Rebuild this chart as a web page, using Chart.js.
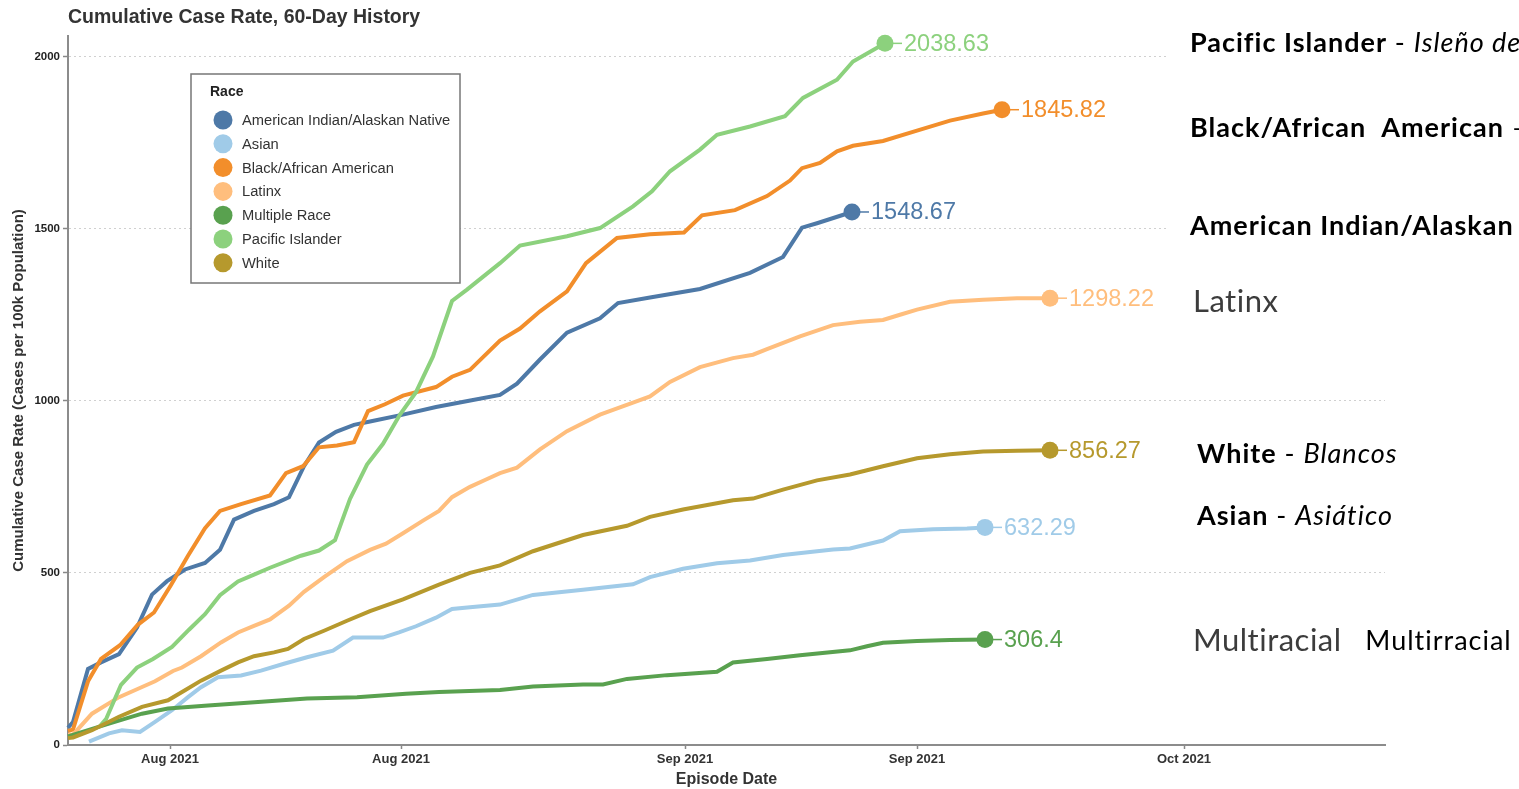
<!DOCTYPE html>
<html>
<head>
<meta charset="utf-8">
<script src="https://cdn.jsdelivr.net/npm/chart.js@4.4.0/dist/chart.umd.min.js"></script>
<style>
  html, body { margin: 0; padding: 0; background: #fff; }
  #wrap { position: relative; width: 1519px; height: 789px; }
</style>
</head>
<body>
<div id="wrap"><canvas id="caseRate" width="1519" height="789"></canvas></div>
<script>
// x = day index along the episode date axis, y = cumulative cases per 100k
const aian = [[0,50],[0.5,67],[2.0,221],[3.3,240],[5.1,264],[6.9,341],[8.4,437],[9.9,476],[11.7,510],[13.7,529],[15.2,567],[16.6,655],[18.6,680],[20.6,700],[22.1,720],[23.6,810],[25.1,879],[26.8,910],[28.6,930],[30.2,940],[33.5,960],[36.8,982],[40.1,1000],[43.2,1017],[44.9,1050],[47.2,1120],[49.9,1198],[53.2,1240],[55.0,1284],[58.2,1300],[63.2,1325],[68.2,1372],[71.5,1418],[73.4,1503],[74.9,1516],[78.4,1548.67]];
const asian = [[2.1,10],[4.1,34],[5.4,43],[7.2,38],[8.7,67],[10.4,101],[12.0,139],[13.3,168],[15.0,197],[17.3,202],[19.3,216],[21.6,236],[23.9,255],[26.5,274],[28.5,312],[31.5,312],[33.1,327],[34.8,345],[36.8,370],[38.4,395],[40.2,400],[43.2,408],[46.5,436],[51.5,451],[56.5,467],[58.2,488],[61.5,512],[64.9,528],[68.2,536],[71.5,552],[76.5,568],[78.2,571],[81.5,594],[83.2,621],[86.5,627],[89.9,629],[91.7,632.29]];
const black = [[0,40],[0.5,45],[2.0,185],[3.3,250],[5.2,290],[7.0,350],[8.6,385],[10.3,465],[12.0,550],[13.7,630],[15.2,680],[17.3,700],[20.2,725],[21.8,790],[23.5,810],[25.1,865],[26.9,870],[28.6,880],[30.0,970],[31.7,990],[33.5,1015],[36.8,1040],[38.4,1070],[40.2,1090],[43.2,1175],[45.2,1210],[47.2,1260],[49.9,1318],[51.8,1400],[54.9,1473],[58.2,1484],[61.6,1489],[63.4,1539],[66.7,1554],[69.9,1595],[72.2,1640],[73.4,1676],[75.2,1691],[76.9,1725],[78.5,1741],[81.5,1755],[84.9,1785],[88.2,1814],[91.5,1835],[93.4,1845.82]];
const latinx = [[0,30],[0.5,30],[2.4,91],[5.1,139],[6.9,162],[8.7,185],[10.5,215],[11.4,225],[13.3,258],[15.3,298],[17.0,327],[18.6,346],[20.2,365],[22.1,405],[23.6,445],[25.6,488],[27.9,534],[30.2,567],[31.8,585],[33.5,615],[35.5,652],[37.1,680],[38.4,720],[40.2,750],[41.7,770],[43.2,790],[44.9,806],[47.2,859],[49.9,912],[53.2,960],[56.5,995],[58.2,1013],[60.2,1055],[63.2,1098],[66.5,1124],[68.5,1134],[69.9,1150],[73.2,1187],[76.5,1220],[79.2,1230],[81.5,1235],[83.2,1250],[84.9,1265],[88.2,1288],[91.5,1294],[94.9,1298],[98.2,1298.22]];
const multiple = [[0,25],[4.1,62],[7.4,91],[10.0,106],[14.0,115],[19.0,125],[23.9,135],[28.9,139],[33.8,149],[37.1,154],[43.2,160],[46.5,170],[51.5,176],[53.5,176],[55.9,192],[59.9,203],[64.9,213],[66.5,240],[69.9,250],[73.2,261],[78.2,275],[79.9,287],[81.5,297],[84.9,302],[88.2,305],[91.7,306.4]];
const pacific = [[3.2,55],[3.8,75],[5.3,175],[6.9,225],[8.5,250],[10.4,285],[12.1,335],[13.7,380],[15.2,435],[17.0,475],[18.6,495],[20.2,515],[23.3,550],[25.1,565],[26.7,595],[28.2,715],[29.9,815],[31.5,875],[33.2,960],[34.8,1025],[36.5,1129],[38.4,1290],[39.9,1323],[43.2,1400],[45.2,1451],[49.9,1478],[53.2,1502],[56.5,1565],[58.4,1609],[60.2,1667],[63.2,1730],[64.9,1773],[68.2,1797],[71.7,1827],[73.5,1880],[76.9,1933],[78.5,1986],[81.7,2038.63]];
const white = [[0,20],[0.5,22],[2.4,43],[5.1,82],[7.4,111],[10.0,130],[11.7,159],[13.3,187],[15.3,216],[17.0,240],[18.6,258],[20.6,269],[22.0,279],[23.6,308],[25.6,332],[27.9,361],[30.2,389],[33.5,423],[37.1,466],[40.2,500],[43.2,522],[46.5,563],[51.5,610],[55.9,637],[58.2,663],[61.5,684],[66.5,711],[68.5,716],[71.5,742],[74.9,769],[78.2,786],[81.5,810],[84.9,833],[88.2,845],[91.5,853],[94.9,855],[98.2,856.27]];

const seriesNames = ['American Indian/Alaskan Native', 'Asian', 'Black/African American', 'Latinx', 'Multiple Race', 'Pacific Islander', 'White'];
const seriesData = [aian, asian, black, latinx, multiple, pacific, white];
const seriesColors = ['#4e79a7', '#a0cbe8', '#f28e2b', '#ffbe7d', '#59a14f', '#8cd17d', '#b6992d'];

const tickDays = [10.2, 33.3, 61.7, 84.9, 111.6];
const tickLabels = ['Aug 2021', 'Aug 2021', 'Sep 2021', 'Sep 2021', 'Oct 2021'];
const yTicks = [0, 500, 1000, 1500, 2000];

// right-hand notes, each line is a list of [text, style]
const sideNotes = [
  [['Pacific Islander', 'b'], [' - ', 'r'], ['Isleño del Pacífico', 'i']],
  [['Black/African  American', 'b'], [' –', 'r']],
  [['American Indian/Alaskan Native', 'b']],
  [['Latinx', 'g']],
  [['White', 'b'], [' - ', 'r'], ['Blancos', 'i']],
  [['Asian', 'b'], [' - ', 'r'], ['Asiático', 'i']],
  [['Multiracial', 'g'], ['   Multirracial', 'r']]
];
const noteY = [43, 128, 226, 302, 454, 516, 641];
const noteX = [1190, 1190, 1190, 1193, 1197, 1197, 1193];

const chartTitle = {
  id: 'chartTitle',
  afterDraw(chart) {
    const ctx = chart.ctx;
    ctx.save();
    ctx.font = 'bold 19.5px "Liberation Sans", Arial, sans-serif';
    ctx.fillStyle = '#333';
    ctx.textBaseline = 'middle';
    ctx.fillText('Cumulative Case Rate, 60-Day History', 68, 18);
    ctx.restore();
  }
};

const endLabels = {
  id: 'endLabels',
  afterDatasetsDraw(chart) {
    const ctx = chart.ctx;
    ctx.save();
    ctx.font = '23.5px "Liberation Sans", Arial, sans-serif';
    ctx.textBaseline = 'middle';
    chart.data.datasets.forEach((ds, i) => {
      const meta = chart.getDatasetMeta(i);
      const pt = meta.data[meta.data.length - 1];
      const last = ds.data[ds.data.length - 1];
      ctx.strokeStyle = ds.borderColor;
      ctx.lineWidth = 1.5;
      ctx.beginPath();
      ctx.moveTo(pt.x + 8, pt.y);
      ctx.lineTo(pt.x + 17, pt.y);
      ctx.stroke();
      ctx.fillStyle = ds.borderColor;
      ctx.fillText(String(last.y), pt.x + 19, pt.y + 1);
    });
    ctx.restore();
  }
};

const raceLegend = {
  id: 'raceLegend',
  afterDraw(chart) {
    const ctx = chart.ctx;
    ctx.save();
    ctx.fillStyle = '#fff';
    ctx.fillRect(191, 74, 269, 209);
    ctx.strokeStyle = '#777';
    ctx.lineWidth = 1.5;
    ctx.strokeRect(191, 74, 269, 209);
    ctx.textBaseline = 'middle';
    ctx.fillStyle = '#222';
    ctx.font = 'bold 14px "Liberation Sans", Arial, sans-serif';
    ctx.fillText('Race', 210, 92);
    ctx.font = '14.7px "Liberation Sans", Arial, sans-serif';
    chart.data.datasets.forEach((ds, i) => {
      const y = 120 + i * 23.8;
      ctx.fillStyle = ds.borderColor;
      ctx.beginPath();
      ctx.arc(223, y, 9.5, 0, Math.PI * 2);
      ctx.fill();
      ctx.fillStyle = '#333';
      ctx.fillText(ds.label, 242, y + 1);
    });
    ctx.restore();
  }
};

const sideText = {
  id: 'sideText',
  afterDraw(chart) {
    const ctx = chart.ctx;
    ctx.save();
    ctx.fillStyle = '#fff';
    ctx.fillRect(1168, 28, 351, 240);
    ctx.textBaseline = 'middle';
    const fonts = {
      b: ['bold 27px Lato, "Open Sans", sans-serif', '#000', '1px'],
      r: ['27px Lato, "Open Sans", sans-serif', '#000', '1px'],
      i: ['italic 27px Lato, "Open Sans", sans-serif', '#000', '1px'],
      g: ['31px Lato, "Open Sans", sans-serif', '#3c3c3c', '0.5px']
    };
    sideNotes.forEach((line, k) => {
      let x = noteX[k];
      line.forEach(([txt, st]) => {
        ctx.font = fonts[st][0];
        ctx.fillStyle = fonts[st][1];
        if ('letterSpacing' in ctx) ctx.letterSpacing = fonts[st][2];
        ctx.fillText(txt, x, noteY[k]);
        x += ctx.measureText(txt).width;
      });
    });
    ctx.restore();
  }
};

const datasets = seriesNames.map((name, i) => ({
  label: name,
  data: seriesData[i].map(p => ({ x: p[0], y: p[1] })),
  borderColor: seriesColors[i],
  backgroundColor: seriesColors[i],
  pointBackgroundColor: seriesColors[i],
  borderWidth: 4,
  tension: 0,
  clip: false,
  order: seriesNames.length - i,
  pointRadius: c => (c.dataIndex === seriesData[i].length - 1 ? 8.5 : 0),
  pointBorderWidth: 0,
  pointHoverRadius: 0
}));

new Chart(document.getElementById('caseRate'), {
  type: 'line',
  data: { datasets: datasets },
  options: {
    responsive: false,
    animation: false,
    events: [],
    layout: { padding: { left: 0, right: 134, top: 36, bottom: 0 } },
    plugins: {
      legend: { display: false },
      tooltip: { enabled: false }
    },
    scales: {
      x: {
        type: 'linear',
        min: 0,
        max: 131.7,
        afterBuildTicks: s => { s.ticks = tickDays.map(v => ({ value: v })); },
        afterFit: s => { s.height = 44; },
        ticks: {
          autoSkip: false,
          maxRotation: 0,
          padding: 3,
          color: '#333',
          font: { family: '"Liberation Sans", Arial, sans-serif', size: 13, weight: 'bold' },
          callback: (v, idx) => tickLabels[idx]
        },
        grid: { drawOnChartArea: false, tickLength: 4, tickColor: '#888', tickWidth: 1.5 },
        border: { color: '#8c8c8c', width: 2 },
        title: {
          display: true,
          text: 'Episode Date',
          color: '#333',
          padding: { top: 0, bottom: 0 },
          font: { family: '"Liberation Sans", Arial, sans-serif', size: 16, weight: 'bold' }
        }
      },
      y: {
        min: 0,
        max: 2060,
        afterBuildTicks: s => { s.ticks = yTicks.map(v => ({ value: v })); },
        afterFit: s => { s.width = 68; },
        ticks: {
          padding: 3,
          color: '#222',
          font: { family: '"Liberation Sans", Arial, sans-serif', size: 11.5, weight: 'bold' },
          callback: v => String(v)
        },
        grid: {
          color: c => (c.tick && c.tick.value === 0 ? 'rgba(0,0,0,0)' : '#d0d0d0'),
          lineWidth: 1,
          tickLength: 5,
          tickColor: '#888',
          tickWidth: 1.5,
          tickBorderDash: []
        },
        border: { color: '#8c8c8c', width: 2, dash: [2, 3] },
        title: {
          display: true,
          text: 'Cumulative Case Rate (Cases per 100k Population)',
          color: '#333',
          padding: { top: 10, bottom: 0 },
          font: { family: '"Liberation Sans", Arial, sans-serif', size: 15, weight: 'bold' }
        }
      }
    }
  },
  plugins: [chartTitle, endLabels, raceLegend, sideText]
});
</script>
</body>
</html>
